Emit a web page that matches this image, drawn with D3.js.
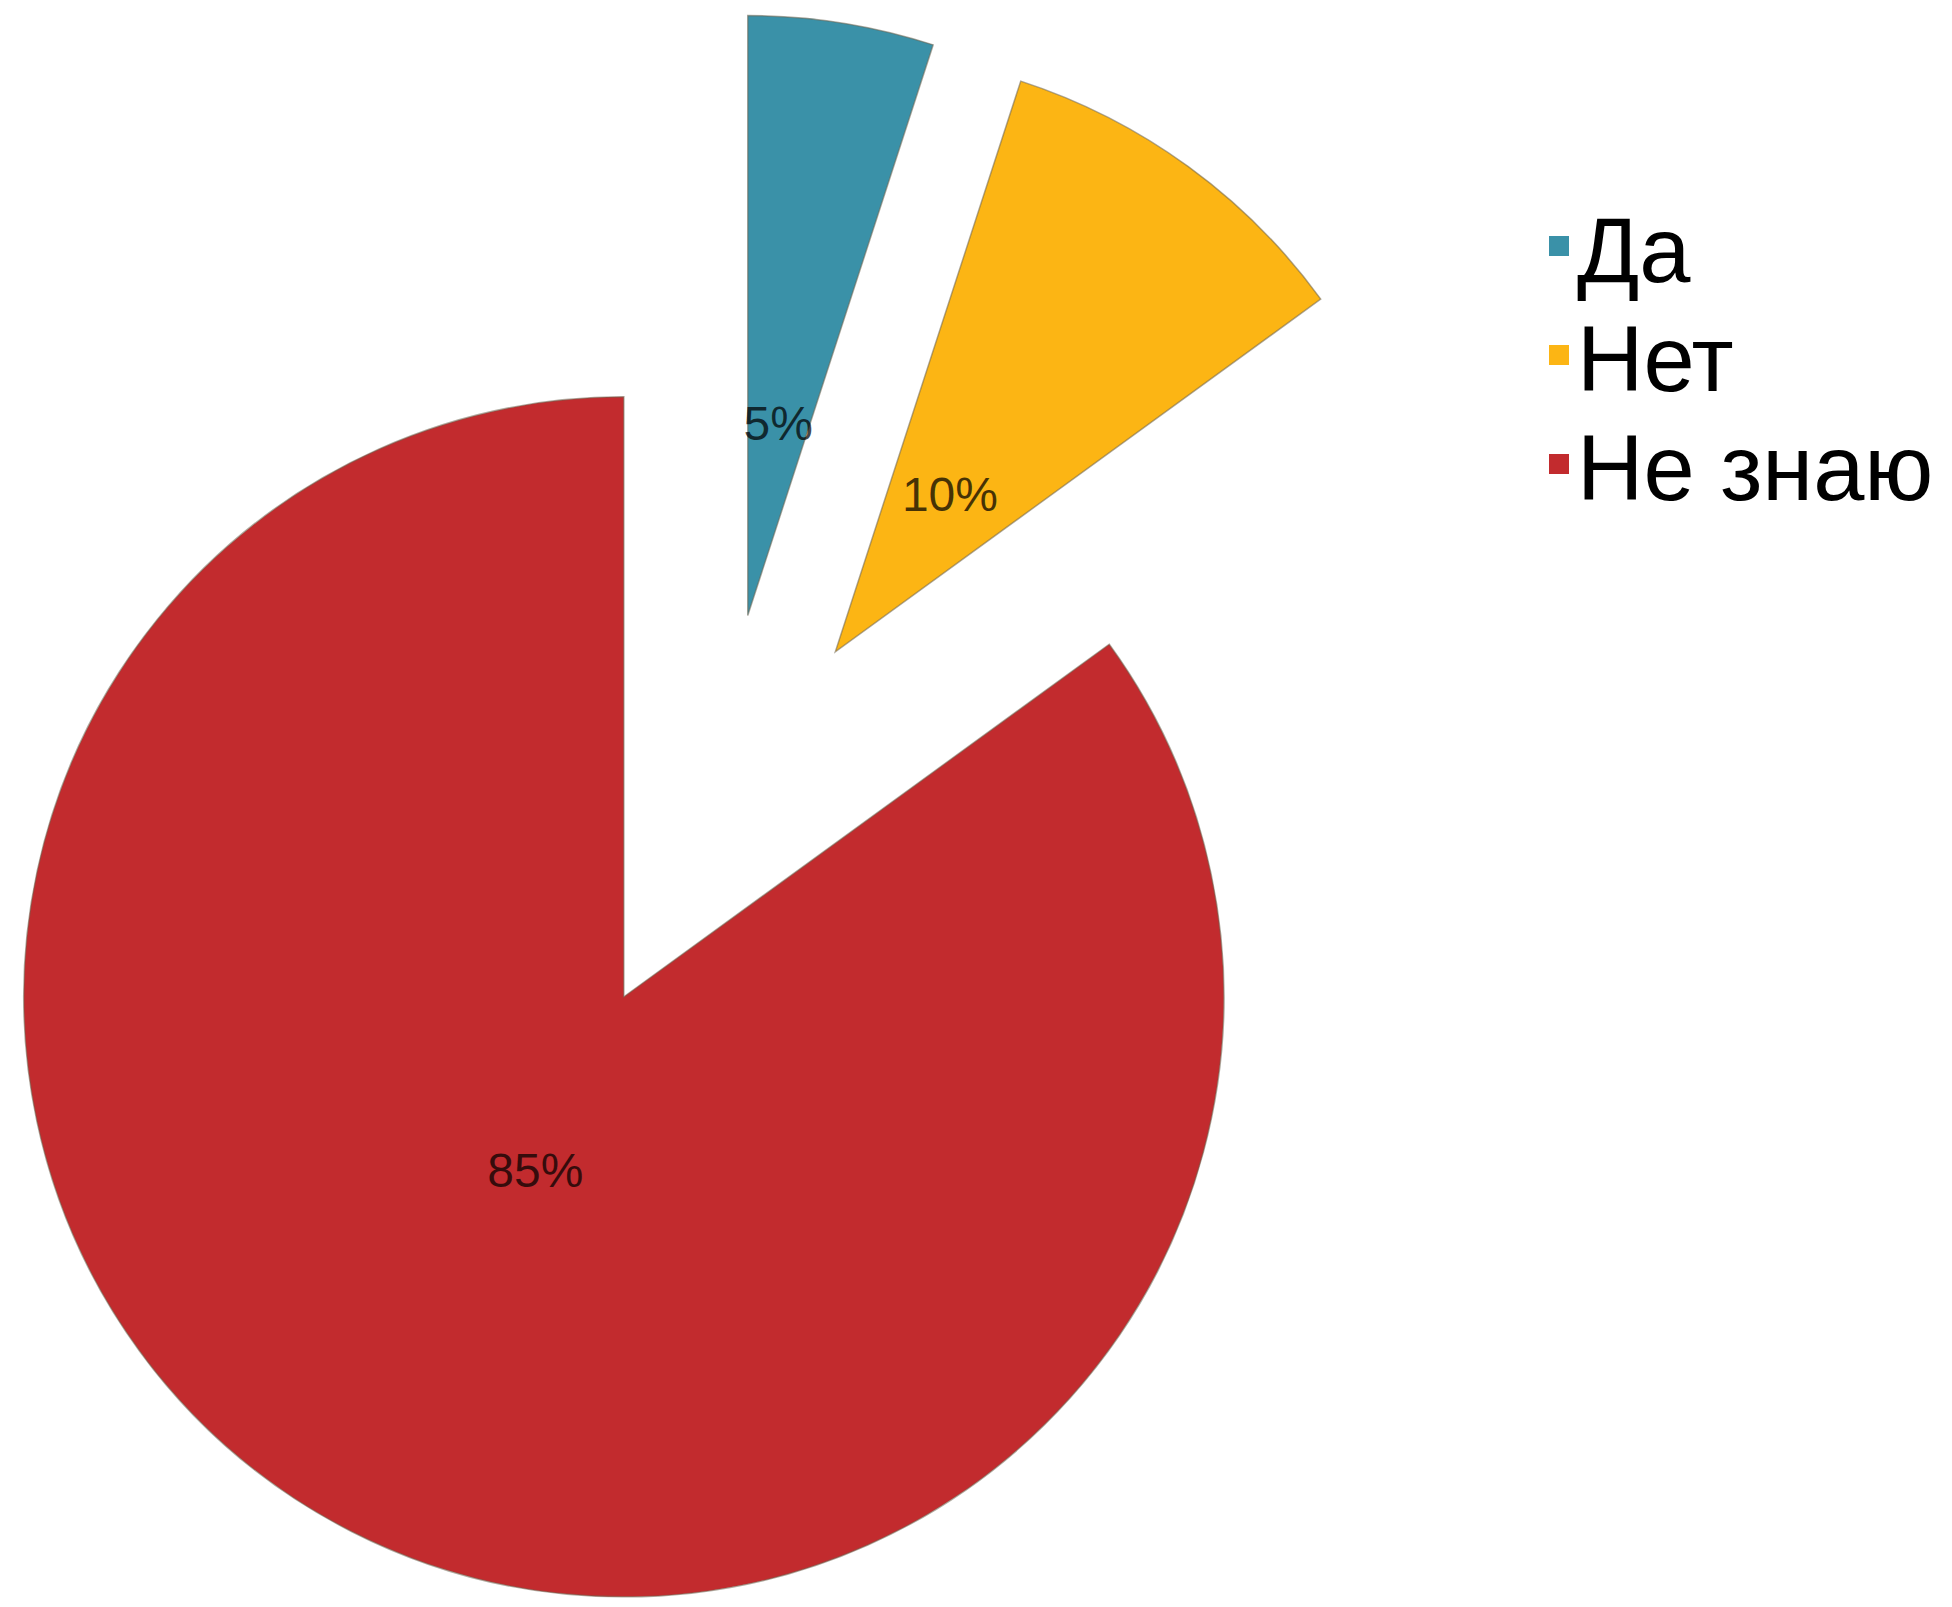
<!DOCTYPE html>
<html>
<head lang="ru">
    <meta charset="UTF-8">
    <title>pie</title>
    <style>
        body { margin: 0; background: #fff; }
        .label { font-family: "Liberation Sans", Arial, sans-serif; font-size: 48px; }
        .legend text { font-family: "Liberation Sans", Arial, sans-serif; font-size: 92px; }
    </style>
</head>
<body>
<svg width="1952" height="1607"></svg>

<script src="https://cdn.jsdelivr.net/npm/d3@7"></script>
<script>
    var categories = ["Да", "Нет", "Не знаю"];
    var values = [5, 10, 85];
    var valueLabels = ["5%", "10%", "85%"];
    var colors = ["#3a91a8", "#fcb514", "#c22b2e"];

    var svg = d3.select("svg"),
        cx = 716, cy = 816,
        radius = 600,
        explode = 203,   // every slice pulled out by the same distance
        labelDist = 195; // label distance from the slice tip

    var pie = d3.pie().sort(null).value(function (d) { return d; });
    var arcs = pie(values);

    var arc = d3.arc().innerRadius(0).outerRadius(radius);

    function shift(d, dist) {
        var a = (d.startAngle + d.endAngle) / 2;
        return [dist * Math.sin(a), -dist * Math.cos(a)];
    }

    var g = svg.append("g")
        .attr("transform", "translate(" + cx + "," + cy + ")");

    var slice = g.selectAll(".slice")
        .data(arcs)
        .enter()
        .append("g")
        .attr("class", "slice")
        .attr("transform", function (d) {
            var s = shift(d, explode);
            return "translate(" + s[0] + "," + s[1] + ")";
        });

    slice.append("path")
        .attr("d", arc)
        .attr("fill", function (d, i) { return colors[i]; })
        .attr("stroke", "rgba(110,100,80,0.55)")
        .attr("stroke-width", 1.5);

    slice.append("text")
        .attr("class", "label")
        .attr("x", function (d) { return shift(d, labelDist)[0]; })
        .attr("y", function (d) { return shift(d, labelDist)[1]; })
        .attr("dy", "0.35em")
        .attr("text-anchor", "middle")
        .attr("fill", "#000")
        .attr("fill-opacity", 0.72)
        .text(function (d, i) { return valueLabels[i]; });

    // legend
    var legend = svg.append("g")
        .attr("class", "legend")
        .attr("transform", "translate(1549,282)");

    var item = legend.selectAll("g")
        .data(categories)
        .enter()
        .append("g")
        .attr("transform", function (d, i) { return "translate(0," + i * 109 + ")"; });

    item.append("rect")
        .attr("x", 0)
        .attr("y", -46)
        .attr("width", 20)
        .attr("height", 20)
        .attr("fill", function (d, i) { return colors[i]; });

    item.append("text")
        .attr("x", 28)
        .attr("y", 0)
        .attr("fill", "#000")
        .text(function (d) { return d; });
</script>
</body>
</html>
